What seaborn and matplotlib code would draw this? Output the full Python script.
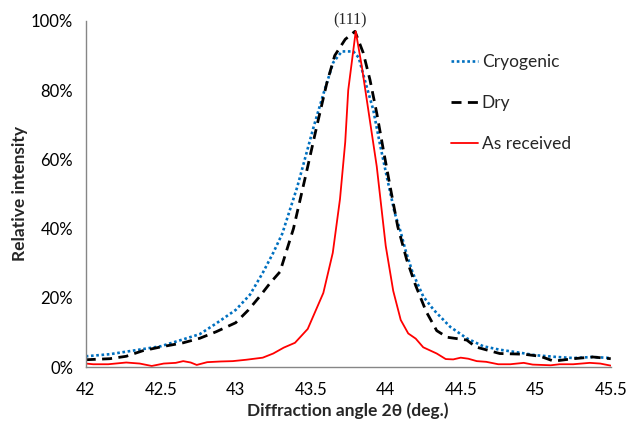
import numpy as np
import pandas as pd
import matplotlib
matplotlib.use("Agg")
import matplotlib.pyplot as plt
import seaborn as sns
from matplotlib.ticker import PercentFormatter

# ---- data ----
cryo_x = [42.0, 42.16, 42.34, 42.5, 42.65, 42.76, 42.87, 43.0, 43.095, 43.18, 43.25, 43.31,
          43.41, 43.52, 43.585, 43.65, 43.707, 43.784, 43.82, 43.86, 43.917, 43.96, 44.007,
          44.06, 44.1, 44.13, 44.18, 44.25, 44.32, 44.43, 44.54, 44.65, 44.76, 44.9, 45.0,
          45.14, 45.25, 45.38, 45.5]
cryo_y = [3.1, 3.7, 4.9, 6.0, 8.0, 9.5, 12.6, 16.5, 20.9, 27.2, 33.0, 38.5,
          52.0, 69.5, 79.0, 88.0, 91.2, 91.2, 89.4, 83.0, 74.3, 64.7, 55.0,
          44.5, 39.0, 34.0, 27.2, 20.4, 16.5, 11.6, 8.3, 6.0, 5.0, 4.1, 3.4,
          2.9, 2.6, 2.9, 2.6]

dry_x = [42.0, 42.16, 42.27, 42.38, 42.5, 42.65, 42.76, 42.87, 43.0, 43.085, 43.16, 43.23,
         43.295, 43.385, 43.47, 43.54, 43.607, 43.66, 43.73, 43.795, 43.85, 43.895, 43.94,
         43.984, 44.03, 44.08, 44.14, 44.2, 44.27, 44.34, 44.41, 44.54, 44.6, 44.76, 44.92,
         45.03, 45.12, 45.25, 45.38, 45.5]
dry_y = [2.1, 2.4, 3.1, 4.7, 5.8, 7.0, 8.3, 10.2, 12.8, 16.5, 20.4, 24.3,
         27.5, 40.0, 56.0, 69.5, 82.0, 90.0, 94.7, 97.0, 90.8, 83.0, 73.4,
         62.8, 52.0, 40.6, 31.0, 23.5, 16.0, 10.5, 8.6, 7.8, 5.8, 3.9, 3.7,
         3.1, 1.7, 2.4, 2.9, 2.4]

asrec_x = [42.0, 42.05, 42.15, 42.27, 42.36, 42.44, 42.52, 42.6, 42.65, 42.7, 42.74, 42.81,
           42.9, 42.98, 43.07, 43.18, 43.25, 43.32, 43.395, 43.48, 43.55, 43.584, 43.647,
           43.695, 43.73, 43.75, 43.8, 43.84, 43.94, 44.0, 44.05, 44.1, 44.15, 44.2, 44.25,
           44.34, 44.4, 44.45, 44.5, 44.55, 44.607, 44.67, 44.75, 44.83, 44.92, 44.98,
           45.1, 45.16, 45.25, 45.36, 45.43, 45.5]
asrec_y = [1.0, 0.8, 0.8, 1.3, 1.0, 0.3, 1.0, 1.2, 1.7, 1.3, 0.6, 1.4,
           1.6, 1.7, 2.1, 2.7, 3.9, 5.6, 7.0, 11.0, 18.0, 21.4, 33.0,
           48.5, 65.0, 80.0, 97.0, 87.0, 58.0, 35.0, 22.0, 13.6, 9.7, 8.2, 5.7,
           3.9, 2.3, 2.2, 2.7, 2.4, 1.7, 1.5, 0.8, 0.8, 1.2, 0.7,
           0.5, 0.8, 0.8, 1.2, 1.0, 0.4]

series_names = ["Cryogenic", "Dry", "As received"]
x_ticks = [42, 42.5, 43, 43.5, 44, 44.5, 45, 45.5]
x_tick_labels = ["42", "42.5", "43", "43.5", "44", "44.5", "45", "45.5"]
y_ticks = [0, 20, 40, 60, 80, 100]
peak_label = "(111)"
peak_pos = (43.765, 100.2)

# ---- plot ----
sns.set_theme(style="white")
plt.rcParams["font.family"] = ["Lato", "DejaVu Sans"]

fig = plt.figure(figsize=(6.28, 4.22), dpi=100)
ax = fig.add_axes([0.1365, 0.1303, 0.836, 0.820])

frames = {
    "Cryogenic": pd.DataFrame({"x": cryo_x, "y": cryo_y}),
    "Dry": pd.DataFrame({"x": dry_x, "y": dry_y}),
    "As received": pd.DataFrame({"x": asrec_x, "y": asrec_y}),
}
styles = {
    "Cryogenic": dict(color="#0070C0", linewidth=1.9, linestyle=(0, (1.0, 1.0)),
                      dash_capstyle="butt"),
    "Dry": dict(color="black", linewidth=2.0, linestyle=(0, (3.6, 2.3))),
    "As received": dict(color="#FF0000", linewidth=1.3, linestyle="-"),
}
for name in series_names:
    sns.lineplot(data=frames[name], x="x", y="y", ax=ax, label=name,
                 sort=False, estimator=None, **styles[name])

ax.set_xlim(42, 45.5)
ax.set_ylim(0, 100)
ax.set_xticks(x_ticks)
ax.set_xticklabels(x_tick_labels)
ax.set_yticks(y_ticks)
ax.yaxis.set_major_formatter(PercentFormatter(decimals=0))

for side in ["top", "right"]:
    ax.spines[side].set_visible(False)
for side in ["left", "bottom"]:
    ax.spines[side].set_color("#868686")
    ax.spines[side].set_linewidth(1.0)
ax.tick_params(axis="both", which="major", direction="out", length=5, width=1,
               color="#868686", labelsize=12, labelcolor="black", pad=4)
ax.tick_params(axis="x", pad=6)

ax.set_xlabel("Diffraction angle 2θ (deg.)", fontsize=12.5, fontweight="bold",
              labelpad=3)
ax.set_ylabel("Relative intensity", fontsize=12.5, fontweight="bold", labelpad=2)

ax.text(peak_pos[0], peak_pos[1], peak_label, ha="center", va="center",
        fontsize=11.5, family=["Liberation Serif", "DejaVu Serif"])

leg = ax.legend(loc="upper left", bbox_to_anchor=(0.695, 0.905), frameon=False,
                fontsize=12.5, handlelength=1.6, handletextpad=0.2,
                labelspacing=1.45, borderaxespad=0, borderpad=0)

fig.savefig("out.png", dpi=100)
